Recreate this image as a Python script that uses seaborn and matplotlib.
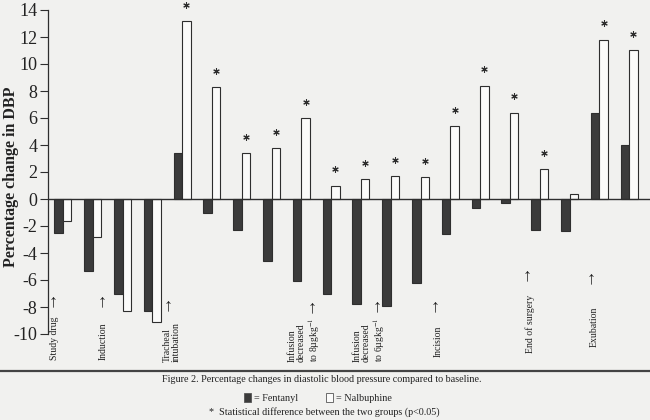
import matplotlib
matplotlib.use('Agg')
import matplotlib.pyplot as plt
from matplotlib.patches import Patch
import numpy as np
import pandas as pd
import seaborn as sns

# values (percentage change in DBP)
timepoints = list(range(20))
fentanyl = [-2.5, -5.3, -7.0, -8.3, 3.4, -1.0, -2.3, -4.6, -6.1, -7.0,
            -7.8, -7.9, -6.2, -2.6, -0.7, -0.3, -2.3, -2.4, 6.4, 4.0]
nalbuphine = [-1.6, -2.8, -8.3, -9.1, 13.2, 8.3, 3.4, 3.8, 6.0, 1.0,
              1.5, 1.7, 1.6, 5.4, 8.4, 6.4, 2.2, 0.4, 11.8, 11.0]
significant = [0, 0, 0, 0, 1, 1, 1, 1, 1, 1, 1, 1, 1, 1, 1, 1, 1, 0, 1, 1]

event_labels = ['Study drug', 'Induction', 'Tracheal\nintubation',
                'Infusion\ndecreased\nto 8\u00b5gkg$^{-1}$',
                'Infusion\ndecreased\nto 6\u00b5gkg$^{-1}$',
                'Incision', 'End of surgery', 'Exubation']
yticks = list(range(-10, 15, 2))

# label placement (data units)
event_x = [-0.27, 1.34, 3.66, 8.12, 10.3, 12.58, 15.67, 17.82]
event_y = [-11.93, -11.93, -12.07, -12.07, -12.07, -11.7, -11.4, -10.96]
arrow_x = [-0.34, 1.32, 3.52, 8.36, 10.54, 12.5, 15.57, 17.72]
arrow_y = [-7.63, -7.63, -7.93, -8.07, -8.0, -8.0, -5.7, -5.93]

df = pd.DataFrame({
    'time': timepoints * 2,
    'group': ['Fentanyl'] * 20 + ['Nalbuphine'] * 20,
    'value': fentanyl + nalbuphine,
})

paper = '#f1f1ef'
ink = '#2e2e2e'

sns.set_style('white')
plt.rcParams['font.family'] = ['Liberation Serif', 'DejaVu Serif']
plt.rcParams['mathtext.fontset'] = 'stix'
plt.rcParams['axes.unicode_minus'] = False

fig = plt.figure(figsize=(6.5, 4.2), dpi=100, facecolor=paper)
ax = fig.add_axes([48 / 650, 86 / 420, 602 / 650, 324 / 420])
ax.set_facecolor(paper)

sns.barplot(data=df, x='time', y='value', hue='group',
            palette={'Fentanyl': '#3b3b3b', 'Nalbuphine': '#fbfbfa'},
            edgecolor=ink, linewidth=0.8, width=0.57, legend=False, ax=ax)

ax.axhline(0, color=ink, lw=1.0, zorder=3)
ax.set_xlim(-0.5, 19.7)
ax.set_ylim(-10, 14)
ax.set_yticks(yticks)
ax.set_yticklabels([str(t) for t in yticks], fontsize=13, color='#222')
ax.set_xticks([])
ax.set_xlabel('')
ax.set_ylabel('Percentage change in DBP', fontsize=11.5, fontweight='bold', color='#222')
ax.yaxis.set_label_coords(-0.048, 0.485)
ax.tick_params(axis='y', direction='out', length=6, width=0.8, pad=1.5, color=ink, left=True)
for side in ['top', 'right', 'bottom']:
    ax.spines[side].set_visible(False)
ax.spines['left'].set_color(ink)
ax.spines['left'].set_linewidth(0.9)

# asterisks above the nalbuphine bars with p<0.05
nal_bars = ax.containers[1]
sx = [b.get_x() + b.get_width() / 2 for b, s in zip(nal_bars, significant) if s]
sy = [b.get_height() + 1.2 for b, s in zip(nal_bars, significant) if s]
ax.scatter(sx, sy, marker=(6, 2, 0), s=16, color=ink, linewidths=0.8, zorder=4,
           clip_on=False)

# event labels with arrows
for lab, x, y in zip(event_labels, event_x, event_y):
    ax.text(x, y, lab, rotation=90, ha='center', va='bottom', multialignment='left',
            fontsize=7, linespacing=1.0, color='#222', clip_on=False)
for x, y in zip(arrow_x, arrow_y):
    ax.text(x, y, '\u2191', ha='center', va='center', fontsize=13, color='#222',
            clip_on=False)

# caption area
fig.add_artist(plt.Line2D([0, 1], [1 - 371 / 420] * 2, transform=fig.transFigure,
                          color='#444', lw=1.6))
fig.text(322 / 650, 1 - 380 / 420, 'Figure 2. Percentage changes in diastolic blood '
         'pressure compared to baseline.', ha='center', va='center', fontsize=7.3,
         color='#222')
handles = [Patch(facecolor='#3b3b3b', edgecolor='#555', lw=0.6),
           Patch(facecolor='#fbfbfa', edgecolor='#555', lw=0.6)]
fig.legend(handles, ['= Fentanyl', '= Nalbuphine'], ncol=2, frameon=False,
           loc='center', bbox_to_anchor=(318 / 650, 1 - 398 / 420), fontsize=7.3,
           handlelength=0.7, handleheight=0.9, handletextpad=0.3, columnspacing=2.8)
fig.text(324 / 650, 1 - 412 / 420, '*  Statistical difference between the two groups '
         '(p<0.05)', ha='center', va='center', fontsize=7.3, color='#222')

fig.savefig('out.png', dpi=100, facecolor=paper)
